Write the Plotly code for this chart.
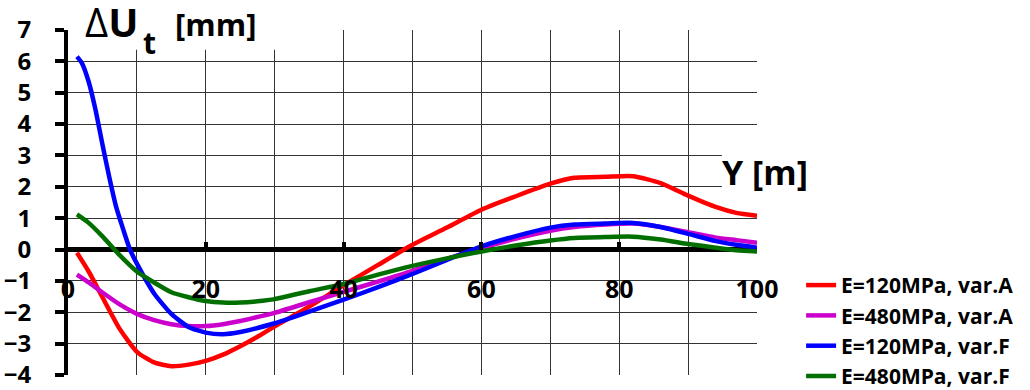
import plotly.graph_objects as go

# ---------------- data ----------------
x_pos = [1.3, 3, 5, 7.5, 10, 12.5, 15, 17.5, 20, 22.5, 25, 27.5, 30, 35, 40, 45,
         50, 55, 60, 65, 70, 73.5, 78, 82, 86, 90, 94, 97, 100]
x_blue = [1.3, 2, 3, 4, 5, 6, 7, 8, 9, 10, 12.5, 15, 17.5, 20, 22.5, 25, 27.5, 30,
          35, 40, 45, 50, 55, 60, 65, 70, 73.5, 78, 82, 86, 90, 94, 97, 100]

e120_varA = [-0.1, -0.7, -1.52, -2.53, -3.26, -3.6, -3.72, -3.67, -3.55, -3.35, -3.08,
             -2.78, -2.45, -1.82, -1.14, -0.49, 0.15, 0.70, 1.27, 1.70, 2.10, 2.29,
             2.32, 2.34, 2.12, 1.72, 1.36, 1.17, 1.08]
e480_varA = [-0.8, -1.05, -1.37, -1.75, -2.05, -2.25, -2.38, -2.44, -2.44, -2.38, -2.28,
             -2.15, -2.02, -1.68, -1.35, -1.02, -0.68, -0.3, 0.05, 0.35, 0.6, 0.72,
             0.8, 0.83, 0.72, 0.55, 0.38, 0.3, 0.22]
e120_varF = [6.15, 5.95, 5.35, 4.45, 3.35, 2.3, 1.35, 0.65, 0.0, -0.45, -1.4, -2.05,
             -2.47, -2.65, -2.7, -2.63, -2.5, -2.35, -1.98, -1.6, -1.2, -0.78, -0.33,
             0.1, 0.43, 0.7, 0.8, 0.83, 0.85, 0.72, 0.5, 0.27, 0.15, 0.06]
e480_varF = [1.12, 0.85, 0.42, -0.18, -0.7, -1.05, -1.36, -1.52, -1.64, -1.69, -1.69,
             -1.65, -1.58, -1.33, -1.1, -0.8, -0.52, -0.28, -0.06, 0.13, 0.29, 0.37,
             0.40, 0.41, 0.32, 0.18, 0.06, -0.02, -0.06]

series_names = ["E=120MPa, var.A", "E=480MPa, var.A", "E=120MPa, var.F", "E=480MPa, var.F"]
series_colors = ["#FF0000", "#CC00CC", "#0000FF", "#006F00"]

x_ticks = [0, 20, 40, 60, 80, 100]
x_ticktext = ["0", "20", "40", "60", "80", "100"]
y_ticks = [-4, -3, -2, -1, 0, 1, 2, 3, 4, 5, 6, 7]

FONT = "Open Sans"

fig = go.Figure()
series_x = [x_pos, x_pos, x_blue, x_pos]
series_y = [e120_varA, e480_varA, e120_varF, e480_varF]
for name, col, xs, ys in zip(series_names, series_colors, series_x, series_y):
    fig.add_trace(go.Scatter(x=xs, y=ys, mode="lines", name=name,
                             line=dict(color=col, width=4.5, shape="spline", smoothing=0.6)))

# empty trace to carry the tick axis placed on y=0
fig.add_trace(go.Scatter(x=[], y=[], xaxis="x2", showlegend=False, hoverinfo="skip"))

fig.update_layout(
    width=1030, height=390,
    margin=dict(l=68, r=273, t=30, b=15, autoexpand=False),
    paper_bgcolor="white", plot_bgcolor="white",
    font=dict(family=FONT, color="black"),
    showlegend=True,
    legend=dict(x=1.064, y=0.319, xanchor="left", yanchor="top",
                font=dict(family=FONT, size=21, color="black", weight="bold"),
                bgcolor="rgba(0,0,0,0)", borderwidth=0, tracegroupgap=0),
    xaxis=dict(range=[0, 100], dtick=10, tick0=0, showgrid=True, gridcolor="#333333",
               gridwidth=1, showticklabels=False, ticks="", zeroline=False,
               showline=False, fixedrange=True),
    xaxis2=dict(overlaying="x", anchor="free", position=4 / 11, range=[0, 100],
                tickmode="array", tickvals=x_ticks, ticktext=x_ticktext,
                ticks="inside", ticklen=8, tickwidth=4, tickcolor="black",
                showgrid=False, zeroline=False, showline=False,
                tickfont=dict(family=FONT, size=25, color="black", weight="bold"),
                ticklabelstandoff=22, ticklabeloverflow="allow", fixedrange=True),
    yaxis=dict(range=[-4, 7], tickmode="array", tickvals=y_ticks,
               showgrid=True, gridcolor="#333333", gridwidth=1,
               showline=True, linewidth=4, linecolor="black",
               ticks="outside", ticklen=9, tickwidth=4, tickcolor="black",
               zeroline=True, zerolinewidth=5, zerolinecolor="black",
               tickfont=dict(family=FONT, size=24, color="black", weight="bold"),
               ticklabelstandoff=19, ticklabeloverflow="allow", fixedrange=True),
)

# white boxes behind the axis titles (hide gridlines like the original)
fig.add_shape(type="rect", xref="x", yref="y", x0=1.0, x1=32.5, y0=6.37, y1=7.6,
              fillcolor="white", line=dict(width=0), layer="between")
fig.add_shape(type="rect", xref="x", yref="y", x0=94.9, x1=101, y0=1.66, y1=3.41,
              fillcolor="white", line=dict(width=0), layer="between")

# y-axis title: ΔU with subscript t, then the unit
fig.add_annotation(xref="paper", yref="paper", x=0.0218, y=1.024, xanchor="left",
                   yanchor="middle", showarrow=False,
                   text="<span style='font-weight:normal'>Δ</span>U",
                   font=dict(family=FONT, size=40, color="black", weight="bold"))
fig.add_annotation(xref="paper", yref="paper", x=0.106, y=0.9638, xanchor="left",
                   yanchor="middle", showarrow=False, text="t",
                   font=dict(family=FONT, size=30, color="black", weight="bold"))
fig.add_annotation(xref="paper", yref="paper", x=0.1524, y=1.0174, xanchor="left",
                   yanchor="middle", showarrow=False, text="[mm]",
                   font=dict(family=FONT, size=31, color="black", weight="bold"))
fig.add_annotation(xref="paper", yref="paper", x=1.0116, y=0.588, xanchor="center",
                   yanchor="middle", showarrow=False, text="Y [m]",
                   font=dict(family=FONT, size=34, color="black", weight="bold"))

fig.write_html("out.html")
